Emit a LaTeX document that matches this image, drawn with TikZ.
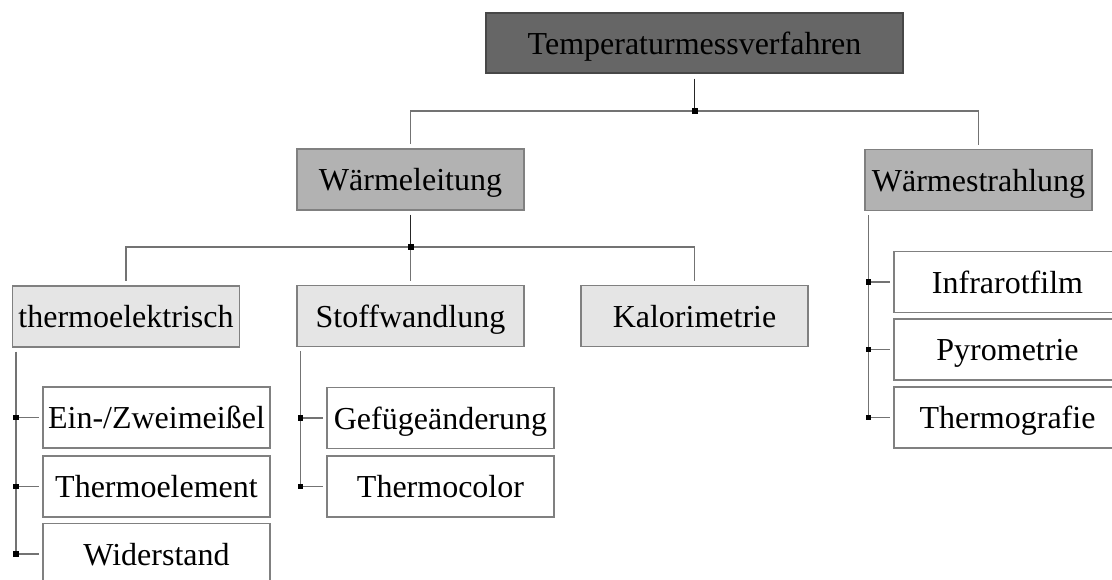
\documentclass[tikz,border=0pt]{standalone}
\usepackage{fontspec}
\setmainfont{Liberation Serif}
\usetikzlibrary{calc}

\begin{document}
\begin{tikzpicture}[x=1pt, y=-1pt, every node/.style={font=\fontsize{32}{36}\selectfont}, box/.style={draw=black!50, line width=1.2pt, minimum width=227pt, minimum height=61pt, inner sep=0pt, text height=24pt, text depth=2pt, fill=white}, ln/.style={draw=black!55, line width=1.2pt}, dk/.style={draw=black!85, line width=1.2pt}]
	\clip (0,0) rectangle (1112,579);
	\node[box, fill=black!60, draw=black!72, minimum width=417pt, minimum height=60pt] (top) at (694.5,43) {Temperaturmessverfahren};
	\node[box, fill=black!30] (wl) at (410.5,179.5) {Wärmeleitung};
	\node[box, fill=black!30] (ws) at (978.5,180) {Wärmestrahlung};
	\node[box, fill=black!10] (te) at (126,316.5) {thermoelektrisch};
	\node[box, fill=black!10] (sw) at (410.5,316) {Stoffwandlung};
	\node[box, fill=black!10] (kal) at (694.5,316) {Kalorimetrie};
	\node[box] (ez) at (156.5,417.5) {Ein-/Zweimeißel};
	\node[box] (tel) at (156.5,486.5) {Thermoelement};
	\node[box] (wid) at (156.5,554) {Widerstand};
	\node[box] (gef) at (440.5,418) {Gefügeänderung};
	\node[box] (tc) at (440.5,486.5) {Thermocolor};
	\node[box] (ir) at (1007.5,282) {Infrarotfilm};
	\node[box] (pyr) at (1007.5,349.5) {Pyrometrie};
	\node[box] (tg) at (1007.5,417.5) {Thermografie};
	% branch points
	\coordinate (j0) at (694.5,111);
	\coordinate (j1) at (410.5,247);
	\draw[dk, shorten <=5pt] (top) -- (j0);
	\draw[ln, shorten >=4pt] (j0) -| (wl);
	\draw[ln, shorten >=4pt] (j0) -| (ws);
	\draw[dk, shorten <=4pt] (wl) -- (j1);
	\draw[ln, shorten >=4pt] (j1) -| (te);
	\draw[ln, shorten >=4pt] (j1) -- (sw);
	\draw[ln, shorten >=4pt] (j1) -| (kal);
	\fill (j0) +(-3,-3) rectangle +(3,3);
	\fill (j1) +(-3,-3) rectangle +(3,3);
	% side lists
	\foreach \c/\p in {ez/te, tel/te, wid/te, gef/sw, tc/sw, ir/ws, pyr/ws, tg/ws} {
		\coordinate (j-\c) at ($(\p.west |- \c.west)+(4,0)$);
		\draw[ln, shorten >=3pt] (j-\c) -- (\c);
	}
	\draw[ln] ($(te.south west)+(4,4)$) -- (j-wid);
	\draw[ln] ($(sw.south west)+(4,4)$) -- (j-tc);
	\draw[ln] ($(ws.south west)+(4,4)$) -- (j-tg);
	\foreach \c in {ez, tel, wid, gef, tc, ir, pyr, tg}
		\fill (j-\c) +(-2.8,-2.8) rectangle +(2.8,2.8);
\end{tikzpicture}
\end{document}
